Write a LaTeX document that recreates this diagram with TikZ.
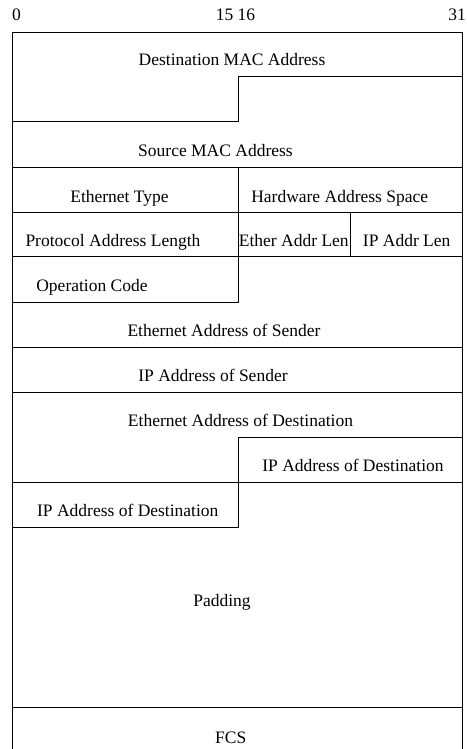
\documentclass[tikz,border=0pt]{standalone}
\usepackage{fontspec}
\setmainfont{Liberation Serif}
\newfontfamily\fieldfont{Liberation Serif}
\begin{document}
\begin{tikzpicture}[x=1pt,y=-1pt,
  frame/.style={line width=1pt,black},
  field/.style={anchor=base,inner sep=0pt,font=\fieldfont\fontsize{17.5}{20}\selectfont},
  bitnum/.style={anchor=base,inner sep=0pt,font=\fieldfont\fontsize{17.5}{20}\selectfont}]
\useasboundingbox (0,0) rectangle (466,749);

% column edges
\def\xl{12.7}\def\xm{238}\def\xq{350}\def\xr{462.7}

% bit positions
\node[bitnum] (b0) at (16.5,21) {0};
\node[bitnum] (b15) at (235.5,21) {15 16};
\node[bitnum,anchor=base east] (b31) at (466,21) {31};

% outline
\draw[frame] (\xl,749) -- (\xl,32.3) -- (\xr,32.3) -- (\xr,749);

% destination MAC (48 bits, steps at bit 16)
\draw[frame] (\xr,76.7) -- (\xm,76.7) -- (\xm,122) -- (\xl,122);
% rows across the full width
\draw[frame] (\xl,167.3) -- (\xr,167.3);
\draw[frame] (\xl,212.3) -- (\xr,212.3);
\draw[frame] (\xl,256.7) -- (\xr,256.7);
\draw[frame] (\xm,167.3) -- (\xm,302.3) -- (\xl,302.3);
\draw[frame] (\xq,212.3) -- (\xq,256.7);
\draw[frame] (\xl,347.3) -- (\xr,347.3);
\draw[frame] (\xl,392.3) -- (\xr,392.3);
% destination ethernet / IP split
\draw[frame] (\xr,437) -- (\xm,437) -- (\xm,527.3) -- (\xl,527.3);
\draw[frame] (\xl,482.3) -- (\xr,482.3);
\draw[frame] (\xl,707.3) -- (\xr,707.3);

% field labels
\node[field] (dmac) at (232,66) {Destination MAC Address};
\node[field] (smac) at (215.5,156.5) {Source MAC Address};
\node[field] (etype) at (119.5,202) {Ethernet Type};
\node[field] (hwsp) at (339.7,202) {Hardware Address Space};
\node[field] (plen) at (113,246) {Protocol Address Length};
\node[field] (elen) at (293.8,246) {Ether Addr Len};
\node[field] (iplen) at (406.7,246) {IP Addr Len};
\node[field] (opc) at (92,291.5) {Operation Code};
\node[field] (esnd) at (224,336.5) {Ethernet Address of Sender};
\node[field] (ipsnd) at (213,381.5) {IP Address of Sender};
\node[field] (edst) at (240.5,426) {Ethernet Address of Destination};
\node[field] (ipdst1) at (353,471) {IP Address of Destination};
\node[field] (ipdst2) at (127.8,516) {IP Address of Destination};
\node[field] (pad) at (222,606) {Padding};
\node[field] (fcs) at (230.8,743) {FCS};
\end{tikzpicture}
\end{document}
